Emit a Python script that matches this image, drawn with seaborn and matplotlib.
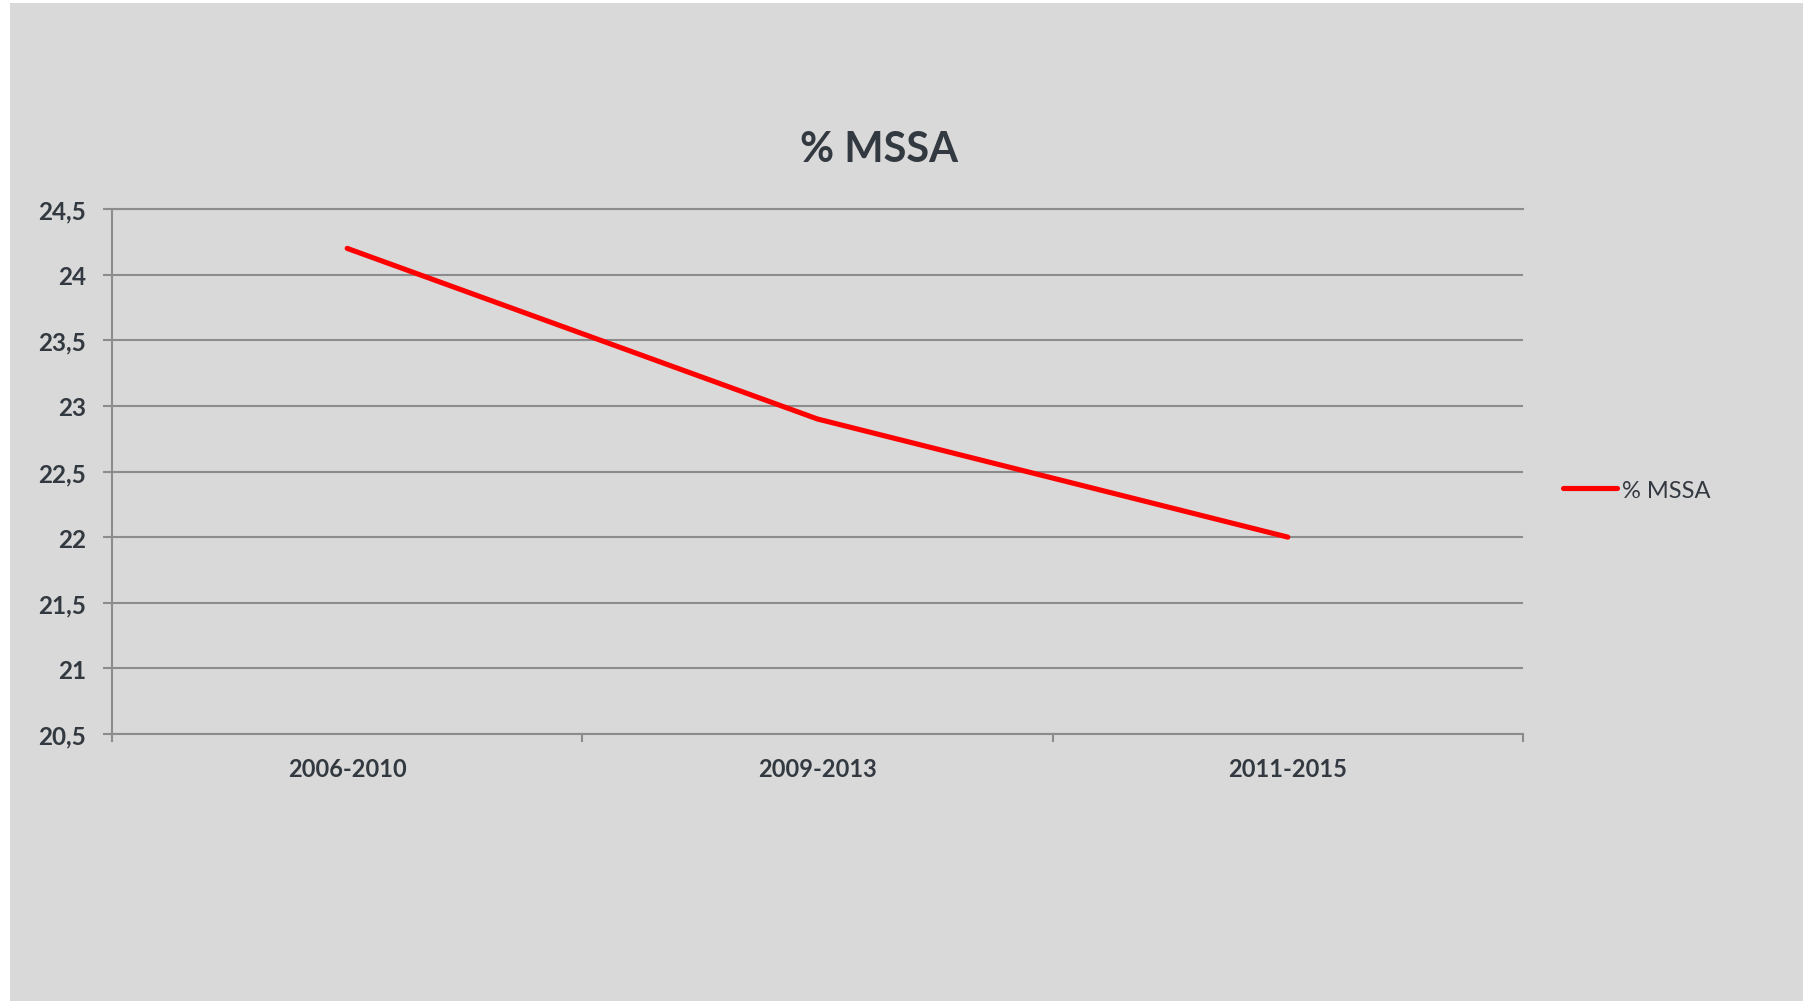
import matplotlib
matplotlib.use("Agg")
import matplotlib.pyplot as plt
from matplotlib.patches import Rectangle
from matplotlib.ticker import FixedLocator, FuncFormatter
import seaborn as sns
import pandas as pd

# Data
periods = ["2006-2010", "2009-2013", "2011-2015"]
mssa_pct = [24.2, 22.9, 22.0]
series_name = "% MSSA"
y_ticks = [20.5, 21, 21.5, 22, 22.5, 23, 23.5, 24, 24.5]

BG = "#d9d9d9"
GRID = "#8c8c8c"
TXT = "#333940"
FONT = ["Lato", "DejaVu Sans"]

sns.set_theme(style="white")
plt.rcParams["font.family"] = FONT

W, H, DPI = 1806, 1004, 100
fig = plt.figure(figsize=(W / DPI, H / DPI), dpi=DPI, facecolor="white")
fig.patches.append(Rectangle((10 / W, 2 / H), 1793 / W, 998 / H,
                             transform=fig.transFigure, facecolor=BG,
                             edgecolor="none", zorder=-10))

left, right, top, bottom = 112, 1523, 210, 735
ax = fig.add_axes([left / W, 1 - bottom / H, (right - left) / W, (bottom - top) / H])
ax.set_facecolor(BG)

df = pd.DataFrame({"period": periods, "value": mssa_pct})
sns.lineplot(data=df, x="period", y="value", ax=ax, color="#ff0000",
             linewidth=3.7, solid_capstyle="round", label=series_name,
             legend=False, zorder=5)

ax.set_xlim(-0.5, len(periods) - 0.5)
ax.set_ylim(y_ticks[0], y_ticks[-1])
ax.set_xlabel("")
ax.set_ylabel("")

# Horizontal gridlines
ax.yaxis.set_major_locator(FixedLocator(y_ticks))
ax.yaxis.set_major_formatter(FuncFormatter(lambda v, p: f"{v:g}".replace(".", ",")))
ax.grid(axis="y", color=GRID, linewidth=1.5)
ax.grid(axis="x", visible=False)
ax.set_axisbelow(True)

for side in ["left", "bottom", "top"]:
    ax.spines[side].set_visible(True)
    ax.spines[side].set_color(GRID)
    ax.spines[side].set_linewidth(1.5)
ax.spines["right"].set_visible(False)

# Category labels at centers, tick marks at boundaries
ax.set_xticks(range(len(periods)))
ax.set_xticklabels(periods)
ax.set_xticks([i - 0.5 for i in range(len(periods) + 1)], minor=True)
ax.tick_params(axis="x", which="major", length=0, pad=16.5, labelsize=17,
               labelcolor=TXT)
ax.tick_params(axis="x", which="minor", bottom=True, length=6, width=1.5,
               color=GRID, direction="out")
ax.tick_params(axis="y", which="major", left=True, length=6.5, width=1.5,
               color=GRID, direction="out", pad=12, labelsize=17.5,
               labelcolor=TXT)
for lab in ax.get_xticklabels() + ax.get_yticklabels():
    lab.set_fontweight("bold")

fig.text(879 / W, 1 - 150.5 / H, series_name, ha="center", va="center",
         fontsize=30, fontweight="bold", color=TXT)

leg = ax.legend(loc="center left", bbox_to_anchor=(1563 / W, 1 - 491 / H),
                bbox_transform=fig.transFigure, frameon=False, borderpad=0,
                borderaxespad=0, handlelength=2.3, handletextpad=0.2,
                fontsize=17)
for t in leg.get_texts():
    t.set_color(TXT)
for h in leg.get_lines():
    h.set_solid_capstyle("round")
    h.set_linewidth(3.7)

fig.savefig("out.png", dpi=DPI, facecolor="white")
